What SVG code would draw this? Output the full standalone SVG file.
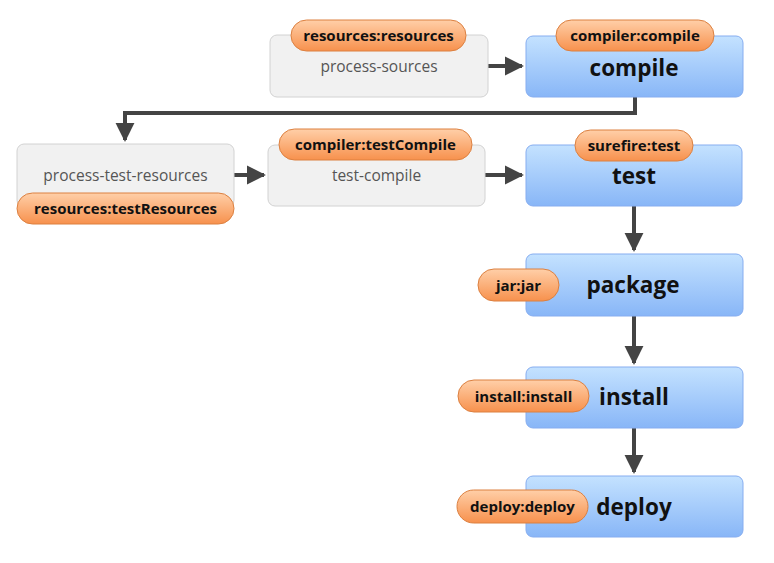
<svg xmlns="http://www.w3.org/2000/svg" width="774" height="563" viewBox="0 0 774 563">
<defs>
<linearGradient id="blue" x1="0" y1="0" x2="0" y2="1">
<stop offset="0" stop-color="#c4e2ff"/>
<stop offset="1" stop-color="#88b6f7"/>
</linearGradient>
<linearGradient id="orange" x1="0" y1="0" x2="0" y2="1">
<stop offset="0" stop-color="#ffcfa8"/>
<stop offset="1" stop-color="#f7914d"/>
</linearGradient>
<marker id="arr" viewBox="0 0 10 10" refX="9" refY="5" markerWidth="4.8" markerHeight="4.8" orient="auto" markerUnits="strokeWidth">
<path d="M0,0 L10,5 L0,10 Z" fill="#444"/>
</marker>
<style>
.gray{fill:#f1f1f1;stroke:#d2d2d2;stroke-width:1}
.blue{fill:url(#blue);stroke:#86adf0;stroke-width:1}
.pill{fill:url(#orange);stroke:#dc8040;stroke-width:1}
.glabel{font-family:"Open Sans","Noto Sans",sans-serif;font-size:15.5px;fill:#555;text-anchor:middle}
.blabel{font-family:"Open Sans","Noto Sans",sans-serif;font-size:22.5px;font-weight:bold;fill:#111;text-anchor:middle}
.plabel{font-family:"Open Sans","Noto Sans",sans-serif;font-size:15px;font-weight:bold;fill:#111;text-anchor:middle}
.conn{fill:none;stroke:#444;stroke-width:4}
</style>
</defs>
<rect width="774" height="563" fill="#fff"/>
<g id="connectors">
<path class="conn" d="M488,66 L522,66" marker-end="url(#arr)"/>
<path class="conn" d="M635,97 L635,113 L125,113 L125,140" marker-end="url(#arr)"/>
<path class="conn" d="M234,175 L264,175" marker-end="url(#arr)"/>
<path class="conn" d="M485,175 L522,175" marker-end="url(#arr)"/>
<path class="conn" d="M634,206 L634,250" marker-end="url(#arr)"/>
<path class="conn" d="M634,316 L634,363" marker-end="url(#arr)"/>
<path class="conn" d="M634,428 L634,472" marker-end="url(#arr)"/>
</g>
<g id="process-sources">
<rect class="gray" x="270" y="35" width="218" height="62" rx="7"/>
<text class="glabel" x="379" y="72">process-sources</text>
<rect class="pill" x="291" y="20" width="175" height="31" rx="15.5"/>
<text class="plabel" x="378.5" y="41">resources:resources</text>
</g>
<g id="compile">
<rect class="blue" x="526" y="36" width="217" height="61" rx="7"/>
<text class="blabel" x="634" y="76">compile</text>
<rect class="pill" x="556" y="20" width="158" height="31" rx="15.5"/>
<text class="plabel" x="635" y="41">compiler:compile</text>
</g>
<g id="process-test-resources">
<rect class="gray" x="17" y="144" width="217" height="63" rx="7"/>
<text class="glabel" x="125.5" y="181">process-test-resources</text>
<rect class="pill" x="17" y="193" width="217" height="31" rx="15.5"/>
<text class="plabel" x="125.5" y="214">resources:testResources</text>
</g>
<g id="test-compile">
<rect class="gray" x="268" y="145" width="217" height="61" rx="7"/>
<text class="glabel" x="376.5" y="181">test-compile</text>
<rect class="pill" x="279" y="129" width="193" height="31" rx="15.5"/>
<text class="plabel" x="375.5" y="150">compiler:testCompile</text>
</g>
<g id="test">
<rect class="blue" x="526" y="145" width="216" height="61" rx="7"/>
<text class="blabel" x="634" y="184">test</text>
<rect class="pill" x="575" y="130" width="118" height="31" rx="15.5"/>
<text class="plabel" x="634" y="151">surefire:test</text>
</g>
<g id="package">
<rect class="blue" x="526" y="254" width="217" height="62" rx="7"/>
<text class="blabel" x="633" y="293">package</text>
<rect class="pill" x="478" y="269" width="81" height="32" rx="16"/>
<text class="plabel" x="518.5" y="290.5">jar:jar</text>
</g>
<g id="install">
<rect class="blue" x="526" y="367" width="217" height="61" rx="7"/>
<text class="blabel" x="634" y="405">install</text>
<rect class="pill" x="458" y="380" width="131" height="32" rx="16"/>
<text class="plabel" x="523.5" y="401.5">install:install</text>
</g>
<g id="deploy">
<rect class="blue" x="526" y="476" width="217" height="61" rx="7"/>
<text class="blabel" x="634" y="515">deploy</text>
<rect class="pill" x="457" y="490" width="131" height="33" rx="16.5"/>
<text class="plabel" x="522.5" y="511.5">deploy:deploy</text>
</g>
</svg>
